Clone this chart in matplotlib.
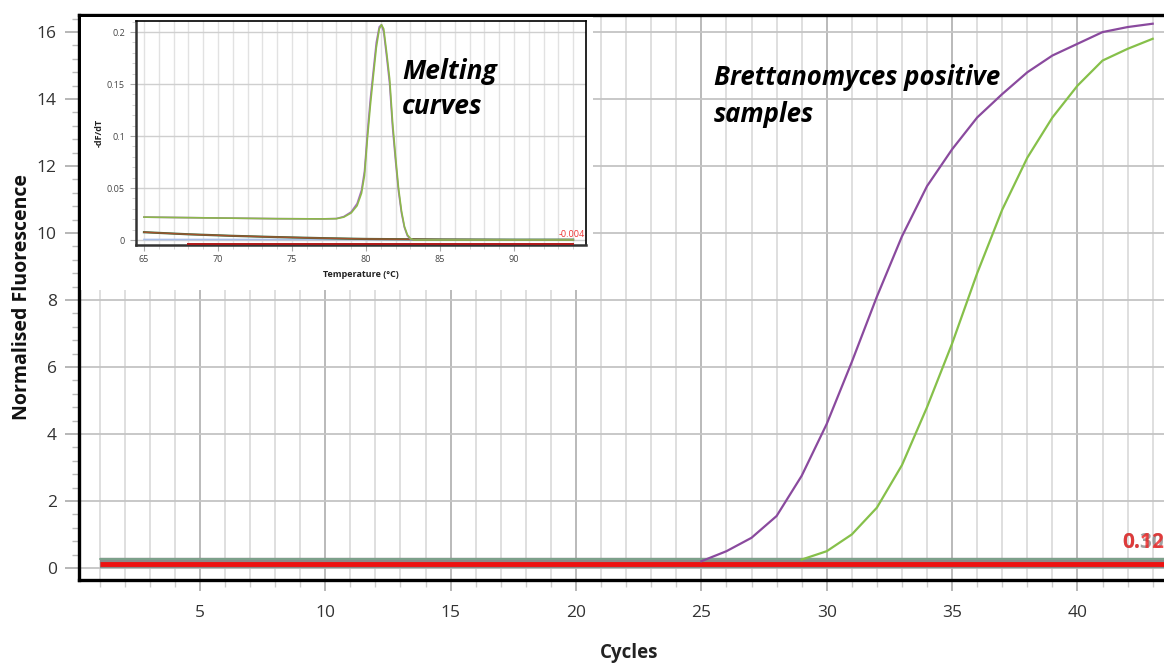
import numpy as np
import matplotlib
matplotlib.use("Agg")
import matplotlib.pyplot as plt
from matplotlib.ticker import MultipleLocator

plt.rcParams['font.family'] = ['Open Sans', 'DejaVu Sans']

# amplification curves (cycle, normalised fluorescence)
purple_cycles = [25, 26, 27, 28, 29, 30, 31, 32, 33, 34, 35, 36, 37, 38, 39, 40, 41, 42, 43]
purple_fluo = [0.2, 0.5, 0.9, 1.55, 2.75, 4.3, 6.15, 8.1, 9.9, 11.4, 12.5, 13.45, 14.15,
               14.8, 15.3, 15.65, 16.0, 16.15, 16.25]
green_cycles = [29, 30, 31, 32, 33, 34, 35, 36, 37, 38, 39, 40, 41, 42, 43]
green_fluo = [0.25, 0.5, 1.0, 1.8, 3.07, 4.8, 6.7, 8.8, 10.7, 12.25, 13.45, 14.4, 15.15, 15.5, 15.8]
baseline_cycles = [1, 44]
baseline_red = [0.12, 0.12]
baseline_grey = [0.15, 0.15]
baseline_top = [0.27, 0.27]

# melting curves (temperature, -dF/dT)
melt_temp = [65, 68, 71, 74, 77, 78, 78.5, 79, 79.4, 79.7, 79.9, 80.1, 80.3, 80.5, 80.7,
             80.9, 81.05, 81.2, 81.4, 81.6, 81.8, 82.0, 82.2, 82.4, 82.6, 82.8, 83.0, 83.2,
             85, 90, 94]
melt_green = [0.022, 0.0215, 0.021, 0.0205, 0.0203, 0.0205, 0.022, 0.026, 0.033, 0.045,
              0.062, 0.098, 0.13, 0.158, 0.185, 0.203, 0.207, 0.203, 0.18, 0.155, 0.113,
              0.08, 0.05, 0.028, 0.013, 0.005, 0.0015, 0.0, 0.0, 0.0, 0.0]
melt_purple = [0.022, 0.0215, 0.021, 0.0205, 0.0203, 0.0206, 0.0225, 0.027, 0.035, 0.048,
               0.066, 0.103, 0.136, 0.163, 0.19, 0.205, 0.207, 0.2, 0.176, 0.15, 0.108,
               0.076, 0.047, 0.026, 0.012, 0.004, 0.001, 0.0, 0.0, 0.0, 0.0]
neg_temp = [65, 68, 71, 74, 77, 80, 85, 90, 94]
neg_brown = [0.0075, 0.0055, 0.004, 0.0028, 0.0018, 0.001, 0.0005, 0.0003, 0.0003]
neg_blue = [0.0005, 0.0005, 0.0005, 0.0005, 0.0005, 0.0004, 0.0003, 0.0003, 0.0003]
neg_red_temp = [68, 94]
neg_red = [-0.0042, -0.0042]

fig = plt.figure(figsize=(11.64, 6.63), dpi=100)
ax = fig.add_axes([79/1164, 83/663, 1090/1164, 565/663])

ax.set_xlim(0.18, 43.65)
ax.set_ylim(-0.36, 16.51)

# grid
ax.xaxis.set_major_locator(MultipleLocator(5))
ax.xaxis.set_minor_locator(MultipleLocator(1))
ax.yaxis.set_major_locator(MultipleLocator(2))
ax.yaxis.set_minor_locator(MultipleLocator(0.4))
ax.set_xticks(range(5, 45, 5))
ax.grid(which='major', axis='x', color='#b4b4b4', lw=1.3)
ax.grid(which='minor', axis='x', color='#dcdcdc', lw=1.3)
ax.grid(which='major', axis='y', color='#c4c4c4', lw=1.3)
ax.set_axisbelow(True)

ax.tick_params(axis='x', which='major', length=8, width=1.2, color='#aaaaaa',
               labelsize=12.5, labelcolor='#333333', pad=10)
ax.tick_params(axis='x', which='minor', length=5, width=1.0, color='#cccccc')
ax.tick_params(axis='y', which='major', length=10, width=1.2, color='#aaaaaa',
               labelsize=12.5, labelcolor='#333333', pad=6)
ax.tick_params(axis='y', which='minor', length=5, width=1.0, color='#bbbbbb')

for s in ['left', 'bottom', 'top']:
    ax.spines[s].set_linewidth(2.4)
    ax.spines[s].set_color('black')
ax.spines['right'].set_visible(False)

# curves
ax.plot(baseline_cycles, baseline_grey, color='#8a8a8a', lw=7.5, solid_capstyle='butt')
ax.plot(baseline_cycles, baseline_top, color='#7aa58a', lw=1.2)
ax.plot(baseline_cycles, baseline_red, color='#ee1111', lw=3.5, solid_capstyle='butt')
ax.plot(purple_cycles, purple_fluo, color='#8a4a9e', lw=1.6)
ax.plot(green_cycles, green_fluo, color='#86c04a', lw=1.6)

ax.text(41.8, 0.6, '0.305', color='#888888', fontsize=15, fontweight='bold', alpha=0.8)
ax.text(41.8, 0.6, '0.122', color='#ee2222', fontsize=15, fontweight='bold', alpha=0.8)

ax.set_xlabel('Cycles', fontsize=13.5, fontweight='bold', color='#222222')
ax.set_ylabel('Normalised Fluorescence', fontsize=14, fontweight='bold', color='#111111')
ax.xaxis.set_label_coords(0.505, -0.112)
ax.yaxis.set_label_coords(-0.043, 0.5)

# inset: white box covering the main plot
bg = fig.add_axes([81/1164, (663-290)/663, 512/1164, 273/663])
bg.set_facecolor('white')
bg.set_xticks([])
bg.set_yticks([])
for s in bg.spines.values():
    s.set_visible(False)

ins = fig.add_axes([136/1164, (663-245)/663, 450/1164, 224/663])
ins.set_xlim(64.46, 94.87)
ins.set_ylim(-0.0048, 0.2106)
ins.xaxis.set_major_locator(MultipleLocator(5))
ins.xaxis.set_minor_locator(MultipleLocator(1))
ins.yaxis.set_major_locator(MultipleLocator(0.05))
ins.yaxis.set_minor_locator(MultipleLocator(0.01))
ins.set_xticks([65, 70, 75, 80, 85, 90])
ins.set_yticks([0, 0.05, 0.1, 0.15, 0.2])
ins.set_yticklabels(['0', '0.05', '0.1', '0.15', '0.2'])
ins.grid(which='both', axis='x', color='#e2e2e2', lw=1.0)
ins.grid(which='major', axis='y', color='#cfcfcf', lw=1.0)
ins.axvline(80, color='#9a9a9a', lw=0.9, zorder=0.5)
ins.set_axisbelow(True)
ins.tick_params(axis='both', which='major', length=4, width=0.8, color='#aaaaaa',
                labelsize=6.5, labelcolor='#444444')
ins.tick_params(axis='both', which='minor', length=3, width=0.6, color='#cccccc')
ins.tick_params(axis='y', pad=4)
for s in ['left', 'bottom']:
    ins.spines[s].set_linewidth(1.8)
    ins.spines[s].set_color('#333333')
for s in ['top', 'right']:
    ins.spines[s].set_linewidth(1.2)
    ins.spines[s].set_color('black')

ins.plot(neg_temp, neg_blue, color='#a9bfe8', lw=1.2)
ins.plot(neg_temp, neg_brown, color='#3d6b3d', lw=1.6)
ins.plot(neg_temp, neg_brown, color='#a0522d', lw=1.0)
ins.plot(neg_red_temp, neg_red, color='#b01818', lw=1.4, clip_on=False, zorder=5)
ins.plot(melt_temp, melt_purple, color='#a56cc1', lw=1.2)
ins.plot(melt_temp, melt_green, color='#8cb84a', lw=1.2)
ins.text(94.8, 0.0012, '-0.004', color='#ee3333', fontsize=6.5, ha='right', va='bottom')

ins.set_xlabel('Temperature (°C)', fontsize=6.5, fontweight='bold', color='#222222', labelpad=4)
ins.set_ylabel('-dF/dT', fontsize=6.5, fontweight='bold', color='#222222')
ins.yaxis.set_label_coords(-0.072, 0.5)

# annotations
fig.text(402/1164, 1 - 58/663, 'Melting\ncurves', fontsize=19, fontweight='bold',
         fontstyle='italic', ha='left', va='top', linespacing=1.4)
fig.text(714/1164, 1 - 64/663, 'Brettanomyces positive\nsamples', fontsize=18.5,
         fontweight='bold', fontstyle='italic', ha='left', va='top', linespacing=1.5)

fig.savefig('out.png', dpi=100)
